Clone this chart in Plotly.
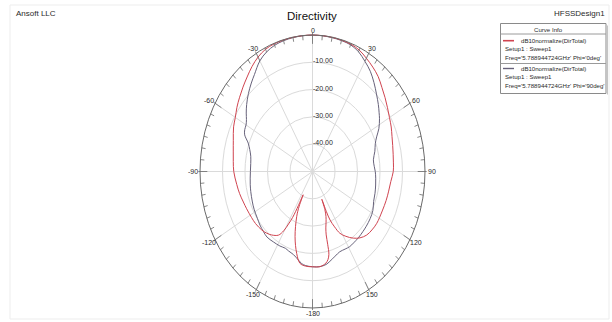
import numpy as np
import plotly.graph_objects as go

# ---- radiation pattern data (dB10normalize(DirTotal)) ----
theta_phi0 = [-180, -175, -170.6, -166.8, -162, -157, -155, -154, -153.3, -152.3, -151, -149.5,
              -147, -142, -138, -133.5, -127, -122, -115, -110, -104, -98, -90, -84, -78, -72,
              -65, -60, -55, -50, -45, -40, -35, -30, -25, -20, -15, -10, -5, 0, 5, 10, 15, 20,
              25, 30, 35, 40, 45, 50, 55, 60, 65, 70, 75, 80, 85, 90, 96, 102, 108, 115, 123.6,
              129, 134, 139, 143.4, 148, 151.7, 154.2, 156.3, 157.2, 157.8, 158.5, 160, 162,
              164, 165.3, 165.8, 166.5, 168, 170, 174.5, 180]
gain_phi0 = [-15.1, -15.2, -15.9, -19.2, -24.9, -32.0, -36.0, -40.5, -36.0, -31.0, -28.0, -24.8,
             -22.2, -20.5, -19.6, -18.9, -18.3, -18.1, -17.7, -17.3, -16.6, -16.0, -15.0, -14.6,
             -14.0, -13.0, -11.3, -10.4, -9.0, -7.7, -6.3, -4.8, -3.1, -1.6, -0.6, -0.25, -0.15,
             -0.1, -0.05, 0.0, -0.05, -0.1, -0.2, -0.35, -0.9, -2.1, -3.3, -4.6, -6.4, -7.9,
             -9.3, -10.5, -11.4, -12.4, -13.1, -13.6, -13.9, -14.1, -15.0, -15.4, -15.6, -15.8,
             -15.7, -16.0, -16.5, -17.8, -19.6, -22.0, -24.3, -27.5, -30.6, -34.0, -39.0, -35.0,
             -32.5, -30.5, -28.5, -26.0, -22.5, -18.8, -17.0, -15.9, -15.0, -15.1]

theta_phi90 = [-180, -175, -172, -169, -164.5, -160, -156.8, -152, -146, -140, -135.5, -130,
               -125, -118, -112, -105, -100, -95, -90, -84, -78.5, -74, -70, -66, -63, -60, -57,
               -54, -50, -45, -40, -36, -30, -25, -20, -15, -10, -5, 0, 5, 10, 15, 20, 25, 30,
               35, 40, 45, 50, 54, 57, 62, 66, 70, 75, 81, 86, 90, 95, 100, 106, 112, 118, 124,
               130, 134.5, 140, 145, 149, 153, 157.6, 162, 166.8, 170, 174.7, 180]
gain_phi90 = [-15.1, -15.4, -15.9, -17.0, -18.4, -19.0, -19.4, -19.1, -18.9, -18.6, -19.0, -19.5,
              -20.1, -20.6, -21.1, -21.6, -21.9, -22.2, -22.4, -22.4, -22.0, -21.0, -19.6, -17.0,
              -16.2, -15.9, -15.0, -13.6, -11.8, -9.7, -7.7, -6.1, -3.2, -1.7, -0.8, -0.4, -0.2,
              -0.1, -0.05, -0.1, -0.2, -0.35, -0.6, -1.6, -3.4, -5.2, -7.5, -9.8, -11.8, -13.4,
              -14.5, -16.6, -18.8, -20.3, -21.3, -22.6, -22.5, -22.1, -21.8, -21.5, -21.1, -20.7,
              -19.6, -19.1, -18.8, -18.6, -18.3, -18.1, -17.9, -18.1, -18.2, -17.4, -16.2, -15.4,
              -15.0, -15.1]

ring_levels = [-40, -30, -20, -10]
angle_labels = [0, 30, 60, 90, 120, 150, -180, -150, -120, -90, -60, -30]
r_min, r_max = -50.0, 0.0

legend_title = "Curve Info"
trace_name = "dB10normalize(DirTotal)"
setup_name = "Setup1 : Sweep1"
freq_phi0 = "Freq='5.788944724GHz' Phi='0deg'"
freq_phi90 = "Freq='5.788944724GHz' Phi='90deg'"

# ---- page geometry (pixels) ----
W, H = 612, 322
CX, CY = 312.5, 171.5      # pattern centre
RX, RY = 112.5, 136.5      # outer ring half-width / half-height

RED = "#d04450"
GREY = "#67627a"
GRID = "#dadada"
AXIS = "#6a6a6a"
TEXT = "#2a2a2a"
FONT = "Arial, Liberation Sans, sans-serif"


def rho(db):
    return (np.asarray(db, dtype=float) - r_min) / (r_max - r_min)


def to_xy(theta_deg, db):
    t = np.radians(np.asarray(theta_deg, dtype=float))
    p = rho(db)
    return p * np.sin(t), p * np.cos(t)


def px(x):
    return x / W


def py(y):
    return 1 - y / H


fig = go.Figure()

x0, y0 = to_xy(theta_phi0, gain_phi0)
x90, y90 = to_xy(theta_phi90, gain_phi90)
fig.add_trace(go.Scatter(x=x90, y=y90, mode="lines", line=dict(color=GREY, width=1),
                         line_shape="spline", hoverinfo="skip"))
fig.add_trace(go.Scatter(x=x0, y=y0, mode="lines", line=dict(color=RED, width=1),
                         line_shape="spline", hoverinfo="skip"))

shapes = []
# radial rings
for lvl in ring_levels:
    p = float(rho(lvl))
    shapes.append(dict(type="circle", xref="x", yref="y", x0=-p, x1=p, y0=-p, y1=p,
                       line=dict(color=GRID, width=1), layer="below"))
# spokes every 30 degrees
for a in range(0, 360, 30):
    t = np.radians(a)
    shapes.append(dict(type="line", xref="x", yref="y", x0=0, y0=0, x1=np.sin(t), y1=np.cos(t),
                       line=dict(color=GRID, width=1), layer="below"))
# outer ring
shapes.append(dict(type="circle", xref="x", yref="y", x0=-1, x1=1, y0=-1, y1=1,
                   line=dict(color=AXIS, width=1)))
# angular ticks on the outer ring
for a in range(0, 360, 5):
    t = np.radians(a)
    inner = 0.935 if a % 30 == 0 else 0.965
    outer = 1.015 if a % 30 == 0 else 1.0
    shapes.append(dict(type="line", xref="x", yref="y",
                       x0=inner * np.sin(t), y0=inner * np.cos(t),
                       x1=outer * np.sin(t), y1=outer * np.cos(t),
                       line=dict(color=AXIS, width=0.8)))

annotations = []
for a in angle_labels:
    t = np.radians(a)
    annotations.append(dict(x=np.sin(t), y=np.cos(t), xref="x", yref="y", text=str(a),
                            showarrow=False, xanchor="center", yanchor="middle",
                            xshift=7 * np.sin(t), yshift=5 * np.cos(t),
                            font=dict(family=FONT, size=7, color=TEXT)))
for lvl in ring_levels:
    annotations.append(dict(x=0, y=float(rho(lvl)), xref="x", yref="y", text=f"{lvl:.2f}",
                            showarrow=False, xanchor="left", yanchor="middle",
                            xshift=-2, yshift=1.5,
                            font=dict(family=FONT, size=7, color=TEXT)))

# header texts
annotations += [
    dict(x=px(14), y=py(14), xref="paper", yref="paper", text="Ansoft LLC", showarrow=False,
         xanchor="left", yanchor="middle", font=dict(family=FONT, size=8, color=TEXT)),
    dict(x=px(312), y=py(16), xref="paper", yref="paper", text="Directivity", showarrow=False,
         xanchor="center", yanchor="middle", font=dict(family=FONT, size=11.5, color="#111111")),
    dict(x=px(607), y=py(14), xref="paper", yref="paper", text="HFSSDesign1", showarrow=False,
         xanchor="right", yanchor="middle", font=dict(family=FONT, size=8, color=TEXT)),
]

# curve info box
LX0, LX1, LY0, LY1 = 500.5, 606, 23.5, 93.5
shapes += [
    dict(type="line", xref="paper", yref="paper", x0=px(LX1 + 1.5), x1=px(LX1 + 1.5),
         y0=py(LY0 + 2), y1=py(LY1 + 1), line=dict(color="#c4c4c4", width=1)),
    dict(type="rect", xref="paper", yref="paper", x0=px(LX0), x1=px(LX1), y0=py(LY1), y1=py(LY0),
         line=dict(color="#8a8a8a", width=1), fillcolor="white"),
    dict(type="line", xref="paper", yref="paper", x0=px(LX0), x1=px(LX1), y0=py(34), y1=py(34),
         line=dict(color="#9a9a9a", width=1)),
    dict(type="line", xref="paper", yref="paper", x0=px(LX0), x1=px(LX1), y0=py(63.5), y1=py(63.5),
         line=dict(color="#9a9a9a", width=1)),
    dict(type="line", xref="paper", yref="paper", x0=px(503), x1=px(514), y0=py(40.7), y1=py(40.7),
         line=dict(color=RED, width=1.6)),
    dict(type="line", xref="paper", yref="paper", x0=px(503), x1=px(514), y0=py(68.5), y1=py(68.5),
         line=dict(color=GREY, width=1.4)),
]
small = dict(family=FONT, size=6.1, color=TEXT)
legend_rows = [
    (548, 29, legend_title, "center"),
    (519, 40.7, trace_name, "left"),
    (503, 48.5, setup_name, "left"),
    (503, 57.5, freq_phi0, "left"),
    (519, 68.5, trace_name, "left"),
    (503, 77, setup_name, "left"),
    (503, 86, freq_phi90, "left"),
]
for lx, ly, txt, anc in legend_rows:
    annotations.append(dict(x=px(lx), y=py(ly), xref="paper", yref="paper", text=txt,
                            showarrow=False, xanchor=anc, yanchor="middle", font=small))

# light page frame
shapes.append(dict(type="rect", xref="paper", yref="paper", x0=px(10), x1=px(609),
                   y0=py(319), y1=py(5), line=dict(color="#ededed", width=1), layer="below"))

fig.update_layout(
    width=W, height=H, autosize=False,
    margin=dict(l=0, r=0, t=0, b=0, pad=0),
    paper_bgcolor="white", plot_bgcolor="white",
    showlegend=False,
    xaxis=dict(range=[-CX / RX, (W - CX) / RX], visible=False, fixedrange=True),
    yaxis=dict(range=[-(H - CY) / RY, CY / RY], visible=False, fixedrange=True),
    shapes=shapes, annotations=annotations,
)

fig.write_html("out.html", config={"displayModeBar": False})
